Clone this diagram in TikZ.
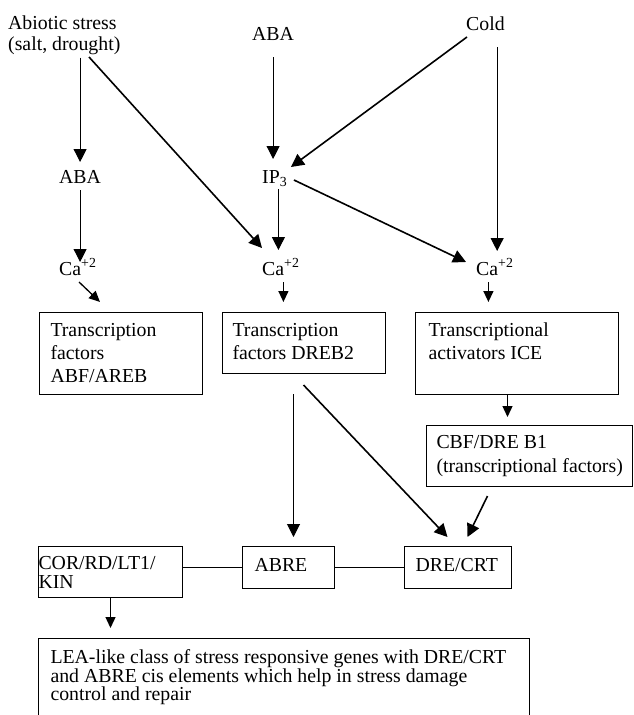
\documentclass[tikz,border=0pt]{standalone}
\usepackage{fontspec}
\setmainfont{Liberation Serif}
\usetikzlibrary{arrows.meta}
\newcommand{\myfs}[1]{\fontsize{19.8pt}{#1}\selectfont}
\newcommand{\bxt}[5]{\hspace*{#1}\parbox[t][#3][t]{#2}{\raggedright\rule{0pt}{#4}#5}}
\tikzset{
  txt/.style={inner sep=0pt, font=\myfs{23pt}},
  bx/.style={draw, line width=1pt, inner sep=0pt, anchor=north west, font=\myfs{23pt}},
  arr/.style={line width=1pt, -{Triangle[length=13pt,width=13pt]}},
  arrd/.style={line width=1.6pt, -{Triangle[length=13pt,width=13pt]}},
  arrs/.style={line width=1.3pt, -{Triangle[length=11pt,width=10pt]}},
  lnk/.style={line width=1pt},
}
\begin{document}
\begin{tikzpicture}[x=1pt,y=-1pt]
\useasboundingbox (0,0) rectangle (634,715);

% text nodes
\node[txt, anchor=north west, align=left, font=\myfs{21pt}] (abiotic) at (8,13) {\rule{0pt}{16pt}Abiotic stress\\(salt, drought)};
\node[txt, anchor=base west] (aba0) at (252,40) {ABA};
\node[txt, anchor=base west] (cold) at (466,30) {Cold};
\node[txt, anchor=base west] (aba1) at (59,183) {ABA};
\node[txt, anchor=base west] (ip3) at (262,183) {IP\textsubscript{3}};
\node[txt, anchor=base west] (ca1) at (59,275) {Ca\textsuperscript{+2}};
\node[txt, anchor=base west] (ca2) at (262,275) {Ca\textsuperscript{+2}};
\node[txt, anchor=base west] (ca3) at (476,275) {Ca\textsuperscript{+2}};

% boxes
\node[bx] (b1) at (39,312) {\bxt{11pt}{152pt}{82pt}{24pt}{Transcription\\factors\\ABF/AREB}};
\node[bx] (b2) at (222,312) {\bxt{10pt}{153pt}{61pt}{24pt}{Transcription\\factors DREB2}};
\node[bx] (b3) at (415,312) {\bxt{13pt}{190pt}{82pt}{24pt}{Transcriptional\\activators ICE}};
\node[bx, font=\myfs{24pt}] (b4) at (426,425) {\bxt{10pt}{196pt}{61pt}{23pt}{CBF/DRE B1\\(transcriptional factors)}};
\node[bx, font=\myfs{19pt}] (cor) at (38,546) {\bxt{0pt}{144pt}{51pt}{23pt}{COR/RD/LT1/\\KIN}};
\node[bx] (abre) at (242,546) {\bxt{12pt}{80pt}{42pt}{25pt}{ABRE}};
\node[bx] (dre) at (404,546) {\bxt{11pt}{96pt}{42pt}{25pt}{DRE/CRT}};
\node[bx, draw=none, font=\myfs{18.5pt}] (lea) at (38,638) {\bxt{12pt}{478pt}{77pt}{25pt}{LEA-like class of stress responsive genes with DRE/CRT\\and ABRE cis elements which help in stress damage\\control and repair}};
\draw[lnk] (lea.south west) -- (lea.north west) -- (lea.north east) -- (lea.south east);

% connectors
\draw[arr, shorten <=3pt, shorten >=21pt] (aba1.base |- abiotic.south) -- (aba1.base);
\draw[arr, shorten <=7pt, shorten >=13pt] (aba1.base) -- (aba1.base |- ca1.base);
\draw[arrd] ([shift={(81,44)}]abiotic.north west) -- ([shift={(0,-27)}]ca2.base west);
\draw[arr, shorten <=17pt, shorten >=24pt] (aba0.base) -- (aba0.base |- ip3.base);
\draw[arrd] ([shift={(1,7)}]cold.base west) -- ([shift={(3.5,-16)}]ip3.base east);
\draw[arr, shorten >=25pt] ([shift={(3.7,6)}]ip3.base) coordinate (c6) -- (c6 |- ca2.base);
\draw[arrd] ([shift={(6.5,-3)}]ip3.base east) -- ([shift={(-10,-13)}]ca3.base west);
\draw[arr, shorten >=24pt] ([shift={(11.7,17)}]cold.base) coordinate (c8) -- (c8 |- ca3.base);
\draw[arrs] ([shift={(20,7)}]ca1.base west) -- ([shift={(61,-10)}]b1.north west);
\draw[arrs, shorten >=10pt] ([shift={(2.6,7)}]ca2.base) coordinate (c10) -- (c10 |- b2.north);
\draw[arrs, shorten >=10pt] ([shift={(-6.4,7)}]ca3.base) coordinate (c11) -- (c11 |- b3.north);
\draw[arrs, shorten >=8pt] ([shift={(-9.5,0)}]b3.south) coordinate (c12) -- (c12 |- b4.north);
\draw[arr, shorten >=9pt] ([shift={(-10.5,20)}]b2.south) coordinate (c13) -- (c13 |- abre.north);
\draw[arrd] ([shift={(-0.5,11)}]b2.south) -- ([shift={(-10.5,-9)}]dre.north);
\draw[arrd] ([shift={(-42,9)}]b4.south) -- ([shift={(9.5,-9)}]dre.north);
\draw[arrs, shorten >=10pt] (cor.south) -- (cor.south |- lea.north);
\draw[lnk] (abre.west -| cor.east) -- (abre.west);
\draw[lnk] (abre.east) -- (dre.west);
\end{tikzpicture}
\end{document}
